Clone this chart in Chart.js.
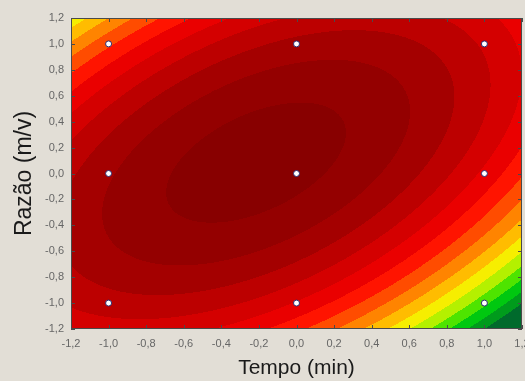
<!DOCTYPE html>
<html>
<head>
<meta charset="utf-8">
<script src="https://cdn.jsdelivr.net/npm/chart.js@4.4.0/dist/chart.umd.min.js"></script>
<style>
  html, body { margin: 0; padding: 0; overflow: hidden; background: #e2ded6; }
  canvas { display: block; }
</style>
</head>
<body>
<canvas id="surf" width="540" height="381"></canvas>
<script>
// design points (coded levels)
var tempo = [-1, -1, -1, 0, 0, 0, 1, 1, 1];
var razao = [-1, 0, 1, -1, 0, 1, -1, 0, 1];

// fitted quadratic surface: b0, x, y, x^2, y^2, xy
var coefs = [15.3, -1.55, 1.2, -3.0, -3.2, 3.08];

// contour breaks and their colours, low -> high
var levels = [1, 2, 3, 4, 5, 6, 7, 8, 9, 10, 11, 12, 13, 14, 15];
var levelColors = ['#006a2c', '#009b1c', '#00c810', '#4ee400', '#b4f000', '#f6ee00',
                   '#ffbc00', '#ff8400', '#ff4c00', '#ff1400', '#ea0000', '#d40000',
                   '#bc0000', '#a40000', '#940000', '#880000'];

var axisTicks = [-1.2, -1.0, -0.8, -0.6, -0.4, -0.2, 0, 0.2, 0.4, 0.6, 0.8, 1.0, 1.2];

function surface(x, y) {
    var b = coefs;
    return b[0] + b[1] * x + b[2] * y + b[3] * x * x + b[4] * y * y + b[5] * x * y;
}

function hexToRgb(h) {
    return [parseInt(h.substr(1, 2), 16), parseInt(h.substr(3, 2), 16), parseInt(h.substr(5, 2), 16)];
}

function fmt(v) {
    if (Math.abs(v) < 1e-9) v = 0;
    return v.toFixed(1).replace('.', ',');
}

var surfacePlugin = {
    id: 'surface',
    beforeDatasetsDraw: function (chart) {
        var ctx = chart.ctx, a = chart.chartArea;
        var sx = chart.scales.x, sy = chart.scales.y;
        var w = Math.round(a.right - a.left), h = Math.round(a.bottom - a.top);
        var off = document.createElement('canvas');
        off.width = w;
        off.height = h;
        var octx = off.getContext('2d');
        var img = octx.createImageData(w, h);
        var rgb = levelColors.map(hexToRgb);
        for (var j = 0; j < h; j++) {
            var y = sy.getValueForPixel(a.top + j + 0.5);
            for (var i = 0; i < w; i++) {
                var x = sx.getValueForPixel(a.left + i + 0.5);
                var z = surface(x, y);
                var k = 0;
                while (k < levels.length && z >= levels[k]) k++;
                var c = rgb[k], p = (j * w + i) * 4;
                img.data[p] = c[0];
                img.data[p + 1] = c[1];
                img.data[p + 2] = c[2];
                img.data[p + 3] = 255;
            }
        }
        octx.putImageData(img, 0, 0);
        ctx.save();
        ctx.drawImage(off, a.left, a.top);

        // frame and inward tick marks
        ctx.strokeStyle = '#4a4a4a';
        ctx.lineWidth = 1;
        ctx.strokeRect(a.left + 0.5, a.top + 0.5, w - 1, h - 1);
        ctx.beginPath();
        axisTicks.forEach(function (v) {
            var px = Math.round(sx.getPixelForValue(v)) + 0.5;
            var py = Math.round(sy.getPixelForValue(v)) + 0.5;
            ctx.moveTo(px, a.bottom); ctx.lineTo(px, a.bottom - 4);
            ctx.moveTo(px, a.top); ctx.lineTo(px, a.top + 4);
            ctx.moveTo(a.left, py); ctx.lineTo(a.left + 4, py);
            ctx.moveTo(a.right, py); ctx.lineTo(a.right - 4, py);
        });
        ctx.stroke();
        ctx.restore();
    }
};

var pts = tempo.map(function (t, i) { return { x: t, y: razao[i] }; });

var tickFont = { family: 'Arial, "Liberation Sans", sans-serif', size: 11 };

new Chart(document.getElementById('surf').getContext('2d'), {
    type: 'scatter',
    data: {
        datasets: [{
            data: pts,
            pointRadius: 3,
            pointBorderWidth: 1,
            pointBackgroundColor: '#ffffff',
            pointBorderColor: '#2b2a6e'
        }]
    },
    options: {
        responsive: false,
        animation: false,
        devicePixelRatio: 1,
        layout: { padding: { top: 18, right: 18, left: 0, bottom: 0 } },
        plugins: { legend: { display: false }, tooltip: { enabled: false } },
        scales: {
            x: {
                type: 'linear',
                min: -1.2,
                max: 1.2,
                afterBuildTicks: function (s) { s.ticks = axisTicks.map(function (v) { return { value: v }; }); },
                afterFit: function (s) { s.height = 52; },
                grid: { display: false, drawTicks: false },
                border: { display: false },
                ticks: { font: tickFont, color: '#666666', padding: 8, maxRotation: 0, autoSkip: false, callback: fmt },
                title: {
                    display: true,
                    text: 'Tempo (min)',
                    color: '#1a1a1a',
                    font: { family: 'Arial, "Liberation Sans", sans-serif', size: 21 },
                    padding: { top: 0, bottom: 0 }
                }
            },
            y: {
                type: 'linear',
                min: -1.2,
                max: 1.2,
                afterBuildTicks: function (s) { s.ticks = axisTicks.map(function (v) { return { value: v }; }); },
                afterFit: function (s) { s.width = 71; },
                grid: { display: false, drawTicks: false },
                border: { display: false },
                ticks: { font: tickFont, color: '#666666', padding: 7, autoSkip: false, callback: fmt },
                title: {
                    display: true,
                    text: 'Razão (m/v)',
                    color: '#1a1a1a',
                    font: { family: 'Arial, "Liberation Sans", sans-serif', size: 23 },
                    padding: { top: 11, bottom: 0 }
                }
            }
        }
    },
    plugins: [surfacePlugin]
});
</script>
</body>
</html>
